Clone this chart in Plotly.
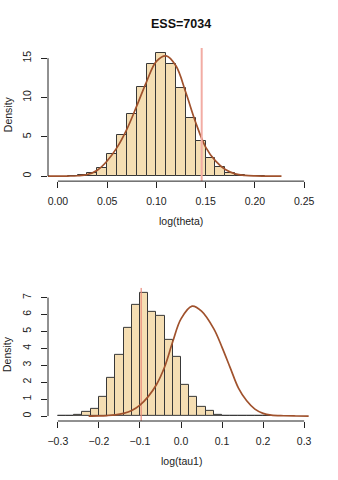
import numpy as np
import plotly.graph_objects as go
from plotly.subplots import make_subplots

# ---- data: log(theta) panel ----
theta_bin_left = [0.01, 0.02, 0.03, 0.04, 0.05, 0.06, 0.07, 0.08, 0.09, 0.10,
                  0.11, 0.12, 0.13, 0.14, 0.15, 0.16, 0.17, 0.18, 0.19, 0.20]
theta_density = [0.01, 0.12, 0.42, 1.01, 2.87, 5.23, 7.94, 11.36, 14.2, 15.67,
                 14.32, 11.19, 7.35, 4.43, 2.32, 1.18, 0.44, 0.19, 0.05, 0.01]
theta_bin_width = 0.01
theta_curve_x = [-0.01, 0.01, 0.02, 0.03, 0.04, 0.05, 0.06, 0.07, 0.08, 0.09, 0.10,
                 0.11, 0.12, 0.13, 0.14, 0.15, 0.16, 0.17, 0.18, 0.19, 0.20, 0.21, 0.227]
theta_curve_y = [0, 0.02, 0.06, 0.21, 0.76, 1.94, 3.63, 5.95, 8.9, 12.0, 14.6,
                 15.3, 14.0, 10.6, 6.8, 3.7, 1.94, 0.84, 0.3, 0.1, 0.03, 0.01, 0]
theta_vline = 0.146
theta_xticks = [0.00, 0.05, 0.10, 0.15, 0.20, 0.25]
theta_yticks = [0, 5, 10, 15]

# ---- data: log(tau1) panel ----
tau_bin_left = [-0.30, -0.28, -0.26, -0.24, -0.22, -0.20, -0.18, -0.16, -0.14, -0.12,
                -0.10, -0.08, -0.06, -0.04, -0.02, 0.00, 0.02, 0.04, 0.06, 0.08,
                0.10, 0.12, 0.14, 0.16, 0.18, 0.20]
tau_density = [0.01, 0.02, 0.06, 0.22, 0.41, 1.12, 2.25, 3.61, 5.21, 6.55,
               7.28, 6.17, 5.92, 4.51, 3.47, 1.87, 1.12, 0.55, 0.28, 0.08,
               0.04, 0.01, 0.01, 0.005, 0.005, 0.005]
tau_bin_width = 0.02
tau_curve_x = [-0.225, -0.2, -0.18, -0.16, -0.14, -0.12, -0.10, -0.08, -0.06, -0.04,
               -0.02, 0.00, 0.027, 0.05, 0.08, 0.10, 0.12, 0.14, 0.16, 0.18, 0.20,
               0.22, 0.25, 0.28, 0.311]
tau_curve_y = [0, 0.01, 0.03, 0.07, 0.16, 0.33, 0.65, 1.15, 1.85, 2.9,
               4.4, 5.74, 6.49, 6.2, 5.15, 4.06, 2.85, 1.65, 0.9, 0.41, 0.16,
               0.06, 0.02, 0.005, 0]
tau_vline = -0.097
tau_xticks = [-0.3, -0.2, -0.1, 0.0, 0.1, 0.2, 0.3]
tau_xticklabels = ["\u22120.3", "\u22120.2", "\u22120.1", "0.0", "0.1", "0.2", "0.3"]
tau_yticks = [0, 1, 2, 3, 4, 5, 6, 7]

title_text = "ESS=7034"

W, H = 338, 480
ML, MR, MT, MB = 47.7, 24.4, 47.6, 59.2
plot_h = H - MT - MB
top_dom = [(H - MB - 180.8) / plot_h, 1.0]
bot_dom = [0.0, (H - MB - 287.6) / plot_h]

fig = make_subplots(rows=2, cols=1)

FONT = "Liberation Sans, Arial, sans-serif"
BAR_FILL = "#F5DEB3"
BAR_EDGE = "#383838"
CURVE = "#A0522D"


def add_hist(row, left, dens, width):
    centers = np.array(left) + width / 2.0
    fig.add_trace(go.Bar(x=centers, y=dens, width=width,
                         marker=dict(color=BAR_FILL, line=dict(color=BAR_EDGE, width=1)),
                         showlegend=False, hoverinfo="skip"), row=row, col=1)


def vline_trace(row, v, color, width, yr):
    fig.add_trace(go.Scatter(x=[v, v], y=yr, mode="lines",
                             line=dict(color=color, width=width),
                             showlegend=False, hoverinfo="skip"), row=row, col=1)


# top
add_hist(1, theta_bin_left, theta_density, theta_bin_width)
fig.add_trace(go.Scatter(x=theta_curve_x, y=theta_curve_y, mode="lines", line_shape="spline",
                         line=dict(color=CURVE, width=1.7), showlegend=False), row=1, col=1)
top_ymax = max(theta_density) * 1.04
top_ymin = -max(theta_density) * 0.04
vline_trace(1, theta_vline, "#F2ACA4", 2, [top_ymin, top_ymax])

# bottom
add_hist(2, tau_bin_left, tau_density, tau_bin_width)
bot_ymax = max(tau_density) * 1.04
bot_ymin = -max(tau_density) * 0.04
vline_trace(2, tau_vline, "#E98C7E", 1.2, [bot_ymin, bot_ymax])
fig.add_trace(go.Scatter(x=tau_curve_x, y=tau_curve_y, mode="lines", line_shape="spline",
                         line=dict(color=CURVE, width=1.7), showlegend=False), row=2, col=1)

axis_common = dict(showgrid=False, zeroline=False, showline=False, ticks="outside",
                   ticklen=6, tickcolor="#222", tickwidth=1, automargin=False,
                   tickfont=dict(family=FONT, size=10.5, color="#222"))

fig.update_xaxes(**axis_common, range=[-0.01, 0.26], tickvals=theta_xticks,
                 ticktext=["%.2f" % t for t in theta_xticks], ticklabelstandoff=4, row=1, col=1)
fig.update_yaxes(**axis_common, range=[top_ymin, top_ymax], tickvals=theta_yticks,
                 tickangle=-90, ticklabelstandoff=6, domain=top_dom, row=1, col=1)
fig.update_xaxes(**axis_common, range=[-0.324, 0.324], tickvals=tau_xticks,
                 ticktext=tau_xticklabels, ticklabelstandoff=4, row=2, col=1)
fig.update_yaxes(**axis_common, range=[bot_ymin, bot_ymax], tickvals=tau_yticks,
                 tickangle=-90, ticklabelstandoff=6, domain=bot_dom, row=2, col=1)

# R-style axis lines spanning first..last tick
for xr, yr, xt, yt in [("x", "y", theta_xticks, theta_yticks), ("x2", "y2", tau_xticks, tau_yticks)]:
    fig.add_shape(type="line", xref=xr, yref=yr + " domain", x0=xt[0], x1=xt[-1], y0=0, y1=0,
                  line=dict(color="#222", width=1))
    fig.add_shape(type="line", xref=xr + " domain", yref=yr, x0=0, x1=0, y0=yt[0], y1=yt[-1],
                  line=dict(color="#222", width=1))

ann_font = dict(family=FONT, size=10.5, color="#222")
for xr, yr, lab in [("x", "y", "log(theta)"), ("x2", "y2", "log(tau1)")]:
    fig.add_annotation(text=lab, xref=xr + " domain", yref=yr + " domain", x=0.5, y=0,
                       yanchor="middle", yshift=-40, showarrow=False, font=ann_font)
    fig.add_annotation(text="Density", xref=xr + " domain", yref=yr + " domain", x=0, y=0.5,
                       xanchor="center", xshift=-40.4, textangle=-90, showarrow=False, font=ann_font)

fig.add_annotation(text="<b>" + title_text + "</b>", xref="x domain", yref="paper", x=0.5,
                   y=(H - 24 - MB) / plot_h, yanchor="middle", showarrow=False,
                   font=dict(family=FONT, size=12.5, color="#111"))

fig.update_layout(width=W, height=H, margin=dict(l=ML, r=MR, t=MT, b=MB, autoexpand=False),
                  plot_bgcolor="white", paper_bgcolor="white", bargap=0, barmode="overlay")

fig.write_html("out.html", config={"displayModeBar": False},
               post_script="document.body.style.margin='0';document.body.style.padding='0';")
